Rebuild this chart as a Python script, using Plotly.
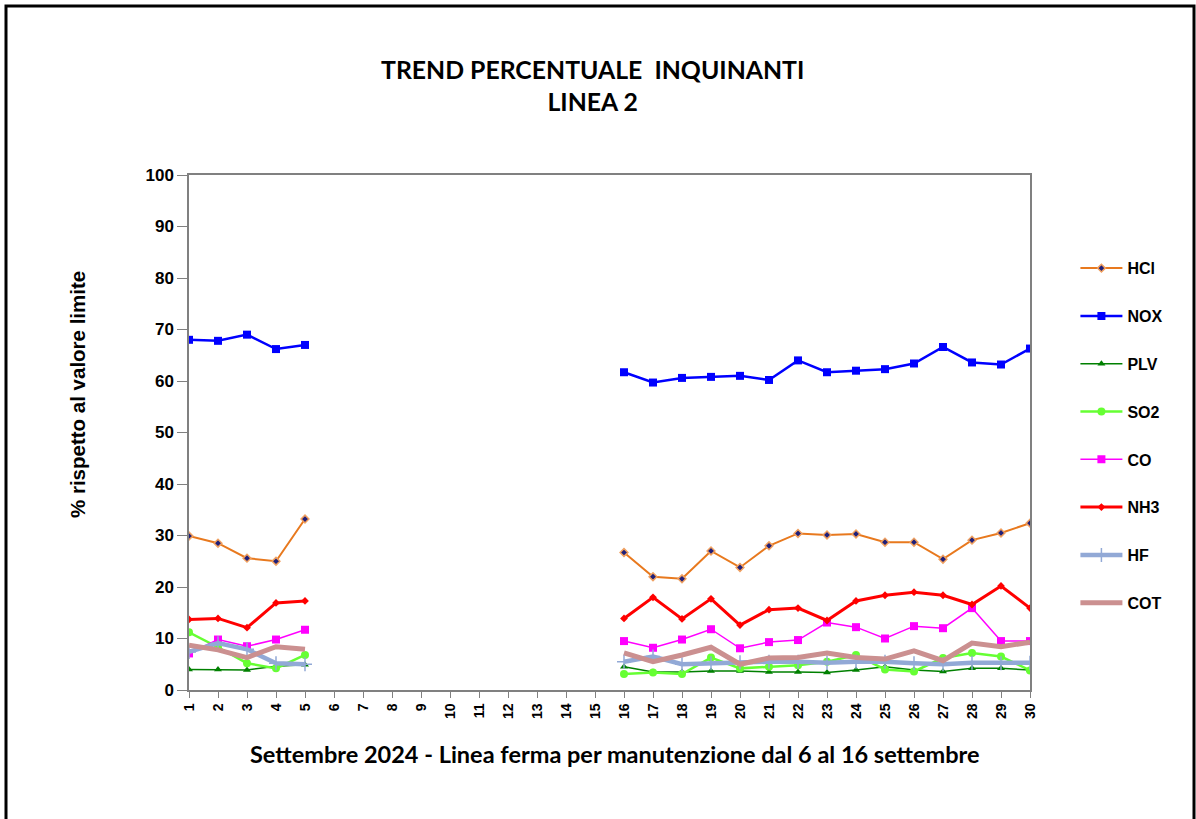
import plotly.graph_objects as go

days = list(range(1, 31))
N = None
hcl = [29.9, 28.5, 25.6, 25.0, 33.2] + [N]*10 + [26.7, 22.0, 21.6, 27.0, 23.8, 28.0, 30.4, 30.1, 30.3, 28.7, 28.7, 25.4, 29.1, 30.5, 32.4]
nox = [68.0, 67.8, 69.0, 66.2, 67.0] + [N]*10 + [61.7, 59.7, 60.6, 60.8, 61.0, 60.2, 64.0, 61.7, 62.0, 62.3, 63.4, 66.6, 63.6, 63.2, 66.3]
plv = [4.0, 4.0, 3.9, 4.6, 4.9] + [N]*10 + [4.5, 3.5, 3.5, 3.7, 3.7, 3.5, 3.5, 3.4, 3.9, 4.5, 3.9, 3.6, 4.2, 4.2, 3.9]
so2 = [11.2, 8.3, 5.2, 4.2, 6.8] + [N]*10 + [3.1, 3.4, 3.1, 6.3, 4.2, 4.5, 4.8, 5.5, 6.8, 4.0, 3.6, 6.2, 7.2, 6.5, 3.8]
co = [7.1, 9.8, 8.5, 9.8, 11.7] + [N]*10 + [9.5, 8.2, 9.8, 11.8, 8.1, 9.3, 9.7, 13.1, 12.2, 10.0, 12.4, 12.0, 15.9, 9.5, 9.5]
nh3 = [13.7, 13.9, 12.1, 16.9, 17.3] + [N]*10 + [13.9, 18.0, 13.8, 17.7, 12.6, 15.6, 15.9, 13.5, 17.3, 18.4, 19.0, 18.4, 16.6, 20.2, 15.9]
hf = [7.4, 9.1, 7.9, 5.2, 5.0] + [N]*10 + [5.5, 6.5, 5.0, 5.2, 5.4, 5.5, 5.5, 5.3, 5.5, 5.5, 5.2, 5.0, 5.3, 5.2, 5.3]
cot = [8.7, 7.8, 6.3, 8.4, 7.9] + [N]*10 + [7.2, 5.5, 6.8, 8.3, 5.0, 6.2, 6.3, 7.2, 6.3, 6.0, 7.6, 5.7, 9.1, 8.4, 9.3]

series = [
    ("HCl", hcl, dict(color="#E8791E", width=2), dict(symbol="diamond", size=6, color="#1F1F7A", line=dict(color="#F0A060", width=1.5))),
    ("NOX", nox, dict(color="#0000FF", width=2.5), dict(symbol="square", size=8, color="#0000FF")),
    ("PLV", plv, dict(color="#008000", width=1.5), dict(symbol="triangle-up", size=7, color="#008000")),
    ("SO2", so2, dict(color="#66FF33", width=2.5), dict(symbol="circle", size=8, color="#66FF33")),
    ("CO", co, dict(color="#FF00FF", width=1.5), dict(symbol="square", size=8, color="#FF00FF")),
    ("NH3", nh3, dict(color="#FF0000", width=3), dict(symbol="diamond", size=6, color="#FF0000")),
    ("HF", hf, dict(color="#92A9D6", width=4.5), dict(symbol="cross-thin", size=10, color="#92A9D6", line=dict(color="#92A9D6", width=1.5))),
    ("COT", cot, dict(color="#CB9090", width=5), None),
]

fig = go.Figure()
for name, vals, line, marker in series:
    kw = dict(x=days, y=vals, name=name, line=line, legendgroup=name, connectgaps=False)
    if marker is None:
        kw["mode"] = "lines"
    else:
        kw["mode"] = "lines+markers"
        kw["marker"] = marker
    fig.add_trace(go.Scatter(**kw))

fig.update_layout(
    width=1196, height=819,
    margin=dict(l=189, r=166, t=175, b=129),
    paper_bgcolor="white", plot_bgcolor="white",
    showlegend=True,
    legend=dict(x=1.054, y=0.852, xanchor="left", yanchor="top",
                font=dict(family="Liberation Sans, Arial", size=16, color="black", weight="bold"),
                traceorder="grouped", tracegroupgap=24, itemwidth=42),
    font=dict(family="Liberation Sans, Arial", color="black"),
)
fig.update_xaxes(range=[1, 30], tickmode="array", tickvals=days, ticktext=[str(d) for d in days],
                 tickangle=-90, ticks="outside", ticklen=6, tickcolor="#808080",
                 showline=True, linecolor="#808080", linewidth=1.5, mirror=True, showgrid=False, zeroline=False,
                 tickfont=dict(family="Liberation Sans, Arial", size=14, color="black", weight="bold"))
fig.update_yaxes(range=[0, 100], dtick=10, ticks="outside", ticklen=10, tickcolor="#808080",
                 showline=True, linecolor="#808080", linewidth=1.5, mirror=True, showgrid=False, zeroline=False,
                 tickfont=dict(family="Liberation Sans, Arial", size=17, color="black", weight="bold"))

fig.add_annotation(text="TREND PERCENTUALE  INQUINANTI<br>LINEA 2", xref="paper", yref="paper",
                   x=(592 - 189) / 841, y=(690 - 86) / 515, xanchor="center", yanchor="middle", showarrow=False,
                   font=dict(family="Lato", size=24.8, color="black", weight="bold"))
fig.add_annotation(text="% rispetto al valore limite", xref="paper", yref="paper",
                   x=(77 - 189) / 841, y=(690 - 395) / 515, xanchor="center", yanchor="middle", showarrow=False,
                   textangle=-90, font=dict(family="Liberation Sans, Arial", size=20.5, color="black", weight="bold"))
fig.add_annotation(text="Settembre 2024 - Linea ferma per manutenzione dal 6 al 16 settembre", xref="paper", yref="paper",
                   x=(615 - 189) / 841, y=(690 - 754) / 515, xanchor="center", yanchor="middle", showarrow=False,
                   font=dict(family="Lato", size=23.5, color="black", weight="bold"))
fig.add_shape(type="rect", xref="paper", yref="paper",
              x0=(6 - 189) / 841, x1=(1194 - 189) / 841, y0=(690 - 840) / 515, y1=(690 - 6) / 515,
              line=dict(color="black", width=3), fillcolor="rgba(0,0,0,0)", layer="above")

fig.write_html("out.html", config={"displayModeBar": False},
               post_script="document.body.style.margin='0px';")
